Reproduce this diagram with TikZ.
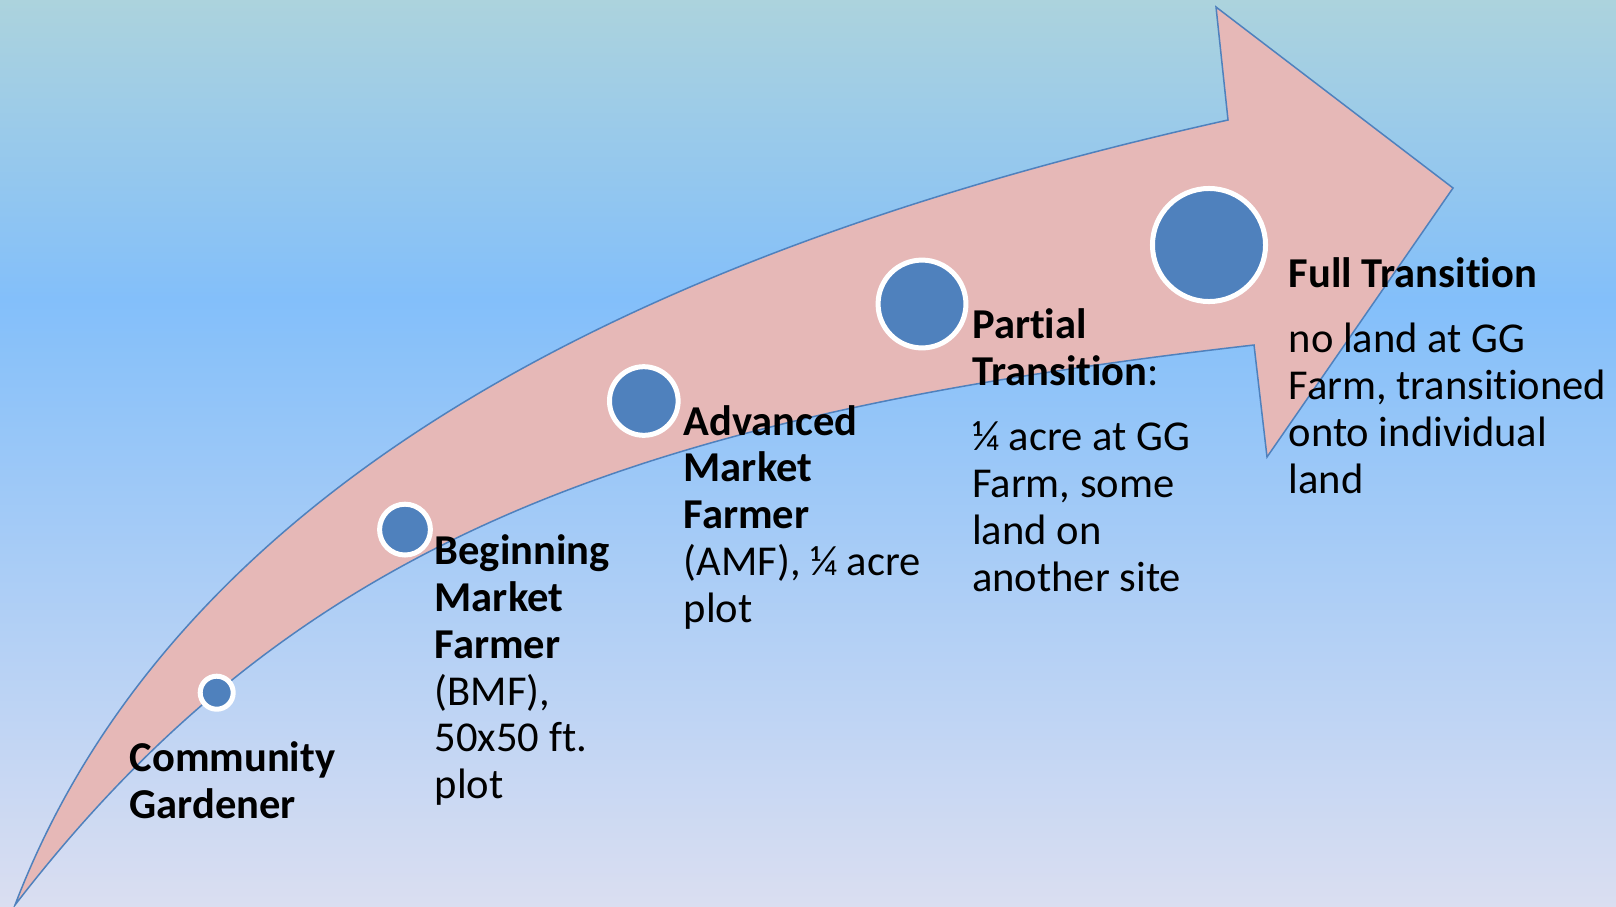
\documentclass[tikz,border=0pt]{standalone}
\usepackage{fontspec}
\setmainfont{Carlito}[Ligatures=CommonOff]
\definecolor{bgtop}{RGB}{172,211,221}
\definecolor{bgmid}{RGB}{131,191,250}
\definecolor{bgbot}{RGB}{218,222,241}
\definecolor{arrowfill}{RGB}{230,184,183}
\definecolor{accent}{RGB}{79,129,189}
\pgfdeclareverticalshading{bgshade}{100bp}{color(0bp)=(bgbot); color(25bp)=(bgbot); color(58.5bp)=(bgmid); color(75bp)=(bgtop); color(100bp)=(bgtop)}
\begin{document}
\begin{tikzpicture}[x=0.01cm,y=-0.01cm,
  dot/.style={circle, fill=accent, draw=white, line width=0.05cm, inner sep=0pt},
  lbl/.style={anchor=base west, align=left, inner sep=0pt, text=black,
              font=\fontsize{12.1}{13.3}\selectfont},
  arrowshape/.style={draw=accent, fill=arrowfill, line width=0.015cm, line join=miter}]
\useasboundingbox (0,0) rectangle (1616,906);
\shade[shading=bgshade] (0,0) rectangle (1616,906);
% arrow outline points
\coordinate (tail) at (15,905);
\coordinate (upend) at (1228,120);
\coordinate (headtop) at (1216,7);
\coordinate (tip) at (1453,188);
\coordinate (headbot) at (1267,457);
\coordinate (lowend) at (1254,345);
\draw[arrowshape] (tail) .. controls (200,420) and (780,220) .. (upend)
  -- (headtop) -- (tip) -- (headbot) -- (lowend)
  .. controls (643,415) and (300,535) .. (tail) -- cycle;
% milestone dots
\node[dot, minimum size=0.33cm]  (c1) at (216.7,692.7) {};
\node[dot, minimum size=0.508cm] (c2) at (405,529.6) {};
\node[dot, minimum size=0.686cm] (c3) at (643.8,401) {};
\node[dot, minimum size=0.878cm] (c4) at (922,304) {};
\node[dot, minimum size=1.13cm]  (c5) at (1209,245) {};
% labels (anchored at the baseline of their last line)
\node[lbl] (t1) at (129,818) {\textbf{Community}\\\textbf{Gardener}};
\node[lbl] (t2) at (434,798.6) {\textbf{Beginning}\\\textbf{Market}\\\textbf{Farmer}\\(BMF),\\50x50 ft.\\plot};
\node[lbl] (t3) at (683,622.2) {\textbf{Advanced}\\\textbf{Market}\\\textbf{Farmer}\\(AMF), ¼ acre\\plot};
\node[lbl] (t4) at (971.5,591) {\textbf{Partial}\\\textbf{Transition}:\\[5.2pt]¼ acre at GG\\Farm, some\\land on\\another site};
\node[lbl] (t5) at (1288,493) {\textbf{Full Transition}\\[5.2pt]no land at GG\\Farm, transitioned\\onto individual\\land};
\end{tikzpicture}
\end{document}
